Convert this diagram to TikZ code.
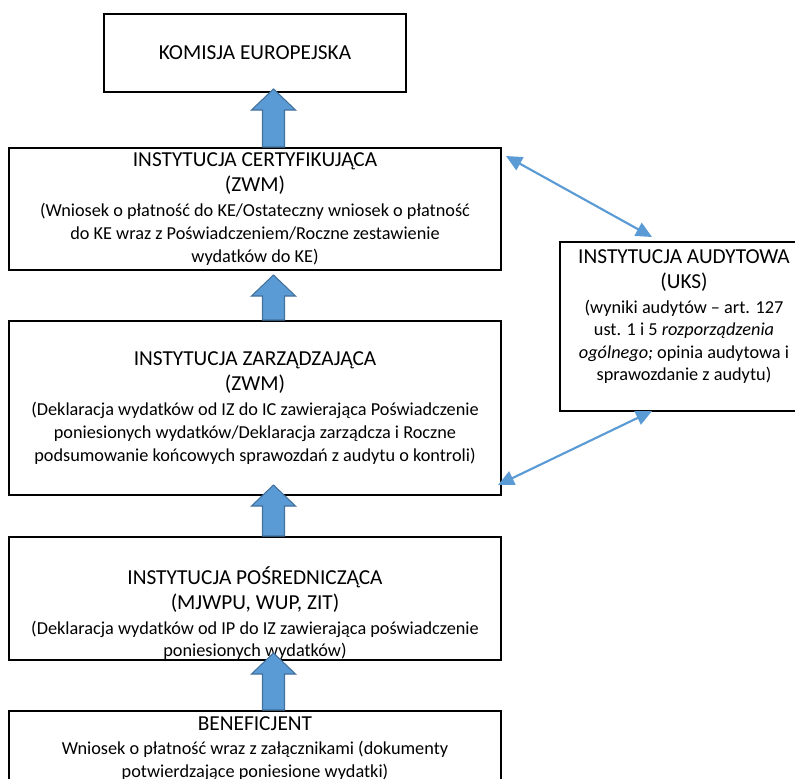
\documentclass[tikz,border=0pt]{standalone}
\usepackage{fontspec}
\setmainfont{Carlito}
\usetikzlibrary{calc,arrows.meta}
\definecolor{arrblue}{HTML}{5B9BD5}
\definecolor{arrline}{HTML}{41719C}
\newcommand{\ttlfont}{\fontsize{16}{20}\selectfont}
\newcommand{\dscfont}{\fontsize{13.7}{16.9}\selectfont}
% block arrow pointing up: lower node, upper node, tip offset below upper.south
\newcommand{\blockup}[3]{%
  \coordinate (tip) at ($(#2.south)+(18.5,#3)$);
  \coordinate (foot) at ($(#1.north)+(18.5,0)$);
  \draw[blockarr] ($(foot)+(-11,0)$) -- ($(tip)+(-11,21)$) -- ($(tip)+(-22,21)$) -- (tip)
    -- ($(tip)+(22,21)$) -- ($(tip)+(11,21)$) -- ($(foot)+(11,0)$) -- cycle;
}
\tikzset{
  box/.style 2 args={draw, line width=1.5pt, minimum width=#1*0.75pt, minimum height=#2*0.75pt,
    inner sep=0pt, align=center, font=\dscfont},
  txt/.style={align=center, font=\dscfont, inner sep=0pt},
  blockarr/.style={fill=arrblue, draw=arrline, line width=0.8pt, line join=miter},
  linkarr/.style={draw=arrblue, line width=1.6pt,
    {Triangle[length=12pt,width=11pt]}-{Triangle[length=12pt,width=11pt]}},
}

\begin{document}
\begin{tikzpicture}[x=0.75pt, y=-0.75pt]
    \useasboundingbox (0,0) rectangle (795,778);
    \clip (0,0) rectangle (795,778);
    % boxes
    \node[box={302}{78}] (ke) at (255,53) {\ttlfont KOMISJA EUROPEJSKA};
    \node[box={492}{122}] (ic) at (255,209) {{\ttlfont INSTYTUCJA CERTYFIKUJĄCA}\\[1.9pt]{\ttlfont (ZWM)}\\[1.9pt]
        (Wniosek o płatność do KE/Ostateczny wniosek o płatność\\do KE wraz z Poświadczeniem/Roczne zestawienie\\wydatków do KE)};
    \node[box={492}{174}] (iz) at (255,408) {{\ttlfont INSTYTUCJA ZARZĄDZAJĄCA}\\[1.9pt]{\ttlfont (ZWM)}\\[1.9pt]
        (Deklaracja wydatków od IZ do IC zawierająca Poświadczenie\\poniesionych wydatków/Deklaracja zarządcza i Roczne\\podsumowanie końcowych sprawozdań z audytu o kontroli)};
    \node[box={492}{123}] (ip) at (255,598.5) {};
    \node[txt] (ip-txt) at (255,613) {{\ttlfont INSTYTUCJA POŚREDNICZĄCA}\\[1.9pt]{\ttlfont (MJWPU, WUP, ZIT)}\\[1.9pt]
        (Deklaracja wydatków od IP do IZ zawierająca poświadczenie\\poniesionych wydatków)};
    \node[box={492}{75}] (ben) at (255,748.5) {{\ttlfont BENEFICJENT}\\[1pt]
        Wniosek o płatność wraz z załącznikami (dokumenty\\potwierdzające poniesione wydatki)};
    \node[box={248}{169}] (ia) at (684,326.5) {};
    \node[txt] (ia-txt) at (684,316.5) {{\ttlfont INSTYTUCJA AUDYTOWA}\\[1.9pt]{\ttlfont (UKS)}\\[1.9pt]
        (wyniki audytów – art. 127\\ust. 1 i 5 \textit{rozporządzenia}\\\textit{ogólnego;} opinia audytowa i\\sprawozdanie z audytu)};
    % flow upwards
    \blockup{ic}{ke}{-4}
    \blockup{iz}{ic}{4}
    \blockup{ip}{iz}{-11}
    \blockup{ben}{ip}{-8}
    % audit links
    \draw[linkarr] ($(ic.north east)+(4,9)$) -- ($(ia.north west)+(93,-4)$);
    \draw[linkarr] ($(ia.south west)+(93,-1)$) -- ($(iz.south east)+(-4,-11)$);
\end{tikzpicture}
\end{document}
